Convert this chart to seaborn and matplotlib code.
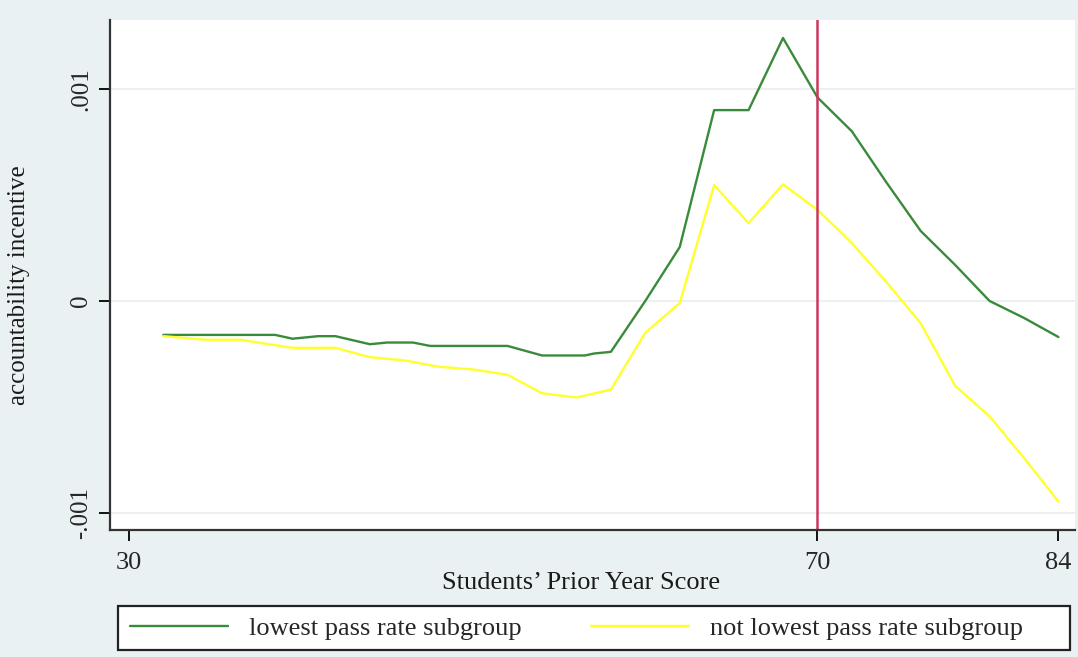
import pandas as pd
import matplotlib.pyplot as plt
import matplotlib.patches as mpatches
import seaborn as sns

# --- Data ---
score_low = [32, 38.5, 39.5, 41, 42, 44, 45, 46.5, 47.5, 52, 54, 56.5, 57, 58,
             60, 62, 64, 66, 68, 70, 72, 74, 76, 78, 80, 82, 84]
incentive_low = [-0.00016, -0.00016, -0.000178, -0.000166, -0.000166, -0.000204,
                 -0.000196, -0.000196, -0.000212, -0.000212, -0.000257, -0.000257,
                 -0.000248, -0.00024, 0.0, 0.000254, 0.0009, 0.0009, 0.00124,
                 0.00096, 0.0008, 0.00056, 0.00033, 0.00017, 0.0, -0.00008, -0.00017]

score_other = [32, 34.5, 36.5, 39.5, 42, 44, 46, 48, 50, 52, 54, 56, 58,
               60, 62, 64, 66, 68, 70, 72, 74, 76, 78, 80, 82, 84]
incentive_other = [-0.000166, -0.000183, -0.000183, -0.000221, -0.000221, -0.000265,
                   -0.00028, -0.00031, -0.000323, -0.000348, -0.000435, -0.000455,
                   -0.000418, -0.00015, -0.00001, 0.000546, 0.000367, 0.00055,
                   0.00043, 0.000273, 0.00009, -0.000105, -0.0004, -0.000544,
                   -0.00074, -0.000946]

group_names = ["lowest pass rate subgroup", "not lowest pass rate subgroup"]
cutoff = 70
x_ticks = [30, 70, 84]
y_ticks = [-0.001, 0, 0.001]
y_tick_labels = ["-.001", "0", ".001"]

df = pd.concat([
    pd.DataFrame({"score": score_low, "incentive": incentive_low, "group": group_names[0]}),
    pd.DataFrame({"score": score_other, "incentive": incentive_other, "group": group_names[1]}),
], ignore_index=True)

# --- Style ---
sns.set_theme(style="white")
plt.rcParams["font.family"] = ["Liberation Serif", "DejaVu Serif"]

bg = "#E9F1F3"
fig = plt.figure(figsize=(10.78, 6.57), dpi=100, facecolor=bg)
ax = fig.add_axes([0.102, 0.1933, 0.895, 0.7763])
ax.set_facecolor("white")

for y in y_ticks:
    ax.axhline(y, color="#E8EFF1", lw=1.2, zorder=0)

sns.lineplot(data=df, x="score", y="incentive", hue="group", ax=ax,
             palette={group_names[0]: "#3A8A3C", group_names[1]: "#FFFF2E"},
             estimator=None, sort=False, linewidth=1.7)

ax.axvline(cutoff, color="#C9385C", lw=1.8)

ax.set_xlim(28.9, 84.95)
ax.set_ylim(-0.00108, 0.001325)
ax.set_xticks(x_ticks)
ax.set_xticklabels([str(t) for t in x_ticks])
ax.set_yticks(y_ticks)
ax.set_yticklabels(y_tick_labels, rotation=90, va="center")

ax.tick_params(axis="x", direction="out", length=8, width=1.3, color="black",
               labelsize=19, pad=8, bottom=True)
ax.tick_params(axis="y", direction="out", length=8, width=1.3, color="black",
               labelsize=18, pad=5, left=True)

for side in ["top", "right"]:
    ax.spines[side].set_visible(False)
for side in ["left", "bottom"]:
    ax.spines[side].set_color("#333333")
    ax.spines[side].set_linewidth(1.6)

ax.set_xlabel("Students’ Prior Year Score", fontsize=19, color="#1a1a1a")
ax.xaxis.set_label_coords(0.488, -0.082)
ax.set_ylabel("accountability incentive", fontsize=18, color="#1a1a1a")
ax.yaxis.set_label_coords(-0.083, 0.48)

# --- Legend below the plot (box drawn separately, Stata style) ---
box = mpatches.Rectangle((118 / 1078, 7 / 657), 952 / 1078, 44 / 657,
                         transform=fig.transFigure, facecolor="white",
                         edgecolor="#222222", linewidth=1.6, zorder=1)
fig.add_artist(box)

handles, labels = ax.get_legend_handles_labels()
ax.get_legend().remove()
fig.legend(handles, labels, loc="center left",
           bbox_to_anchor=(130 / 1078, 1 - 628 / 657),
           ncol=2, frameon=False, fontsize=19, handlelength=3.7,
           handletextpad=0.8, columnspacing=2.65, borderpad=0, borderaxespad=0)

plt.savefig("out.png", dpi=100, facecolor=bg)
